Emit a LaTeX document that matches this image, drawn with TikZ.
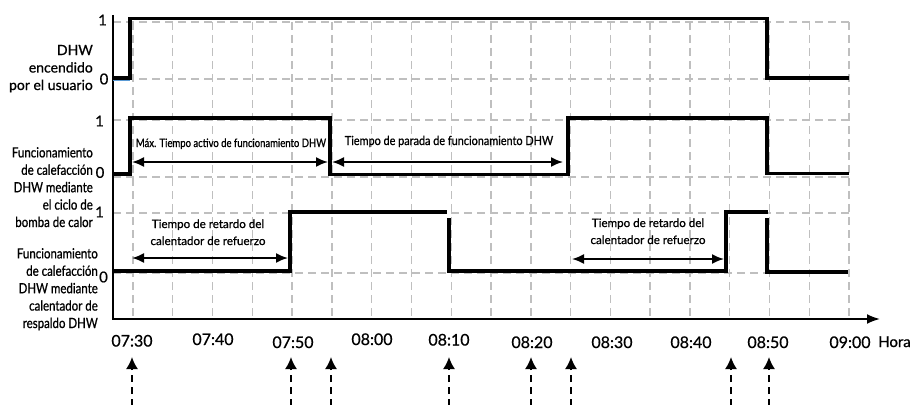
\documentclass[tikz,border=0pt]{standalone}
\usepackage{fontspec}
\setmainfont[FakeBold=0.8]{Lato}
\newfontfamily\condfont[FakeStretch=0.82,FakeBold=0.8]{Lato}
\newfontfamily\midfont[FakeStretch=0.87,FakeBold=0.8]{Lato}
\usetikzlibrary{arrows.meta}
\definecolor{gridgray}{HTML}{BFBFBF}
\definecolor{userblue}{HTML}{5B9BD5}
\begin{document}
\begin{tikzpicture}[x=1pt,y=-1pt,
  gridline/.style={gridgray,line width=1.4pt,dash pattern=on 8pt off 5pt},
  sig/.style={line width=3.6pt,line cap=butt,line join=miter},
  axisline/.style={line width=2pt,line join=miter},
  dimarrow/.style={line width=1.8pt,{Latex[length=12pt,width=10pt]}-{Latex[length=12pt,width=10pt]}},
  evarrow/.style={line width=1.8pt,dash pattern=on 7pt off 5pt,-{Latex[length=12pt,width=12pt]}},
  leftlbl/.style={font=\fontsize{14}{17.5}\selectfont,align=right,inner sep=0pt,anchor=base east},
  condlbl/.style={font=\condfont\fontsize{14}{17.4}\selectfont,align=right,inner sep=0pt,anchor=base east},
  lvl/.style={font=\fontsize{15}{18}\selectfont,inner sep=0pt},
  timelbl/.style={font=\fontsize{16}{19}\selectfont,inner sep=0pt,anchor=base},
  smalltxt/.style={font=\fontsize{11.6}{17}\selectfont,align=center,inner sep=0pt,anchor=base},
]
\useasboundingbox (0,0) rectangle (915,404);

% grid
\foreach \i in {0,...,18} \draw[gridline] ({133+\i*39.78},22) -- ({133+\i*39.78},319);
\foreach \yy in {22,79,120,177,213,273} \draw[gridline] (113,\yy) -- (849,\yy);

% axes
\coordinate (ytop) at (113,15);
\coordinate (origin) at (113,319);
\coordinate (xend) at (880,319);
\draw[axisline,-{Latex[length=13pt,width=10pt]}] (ytop) -- (origin) -- (xend);

% signal 1
\draw[userblue,line width=1pt] (113,80.5) -- (130,80.5);
\draw[sig] (113,78) -- (130,78) -- (130,18.5) -- (767,18.5) -- (767,78) -- (849,78);
% signal 2
\draw[sig] (113,174) -- (130,174) -- (130,118) -- (330,118) -- (330,174.5) -- (568,174.5) -- (568,118) -- (767,118) -- (767,173.5) -- (849,173.5);
% signal 3
\draw[sig] (113,271) -- (290,271) -- (290,212) -- (447,212);
\draw[sig] (449,218) -- (449,271) -- (726,271) -- (726,212) -- (768,212);
\draw[sig] (767,218) -- (767,272) -- (848,272);

% level labels
\node[lvl] (s1one) at (102.5,20) {1};
\node[lvl] (s1zero) at (104,79) {0};
\node[lvl] (s2one) at (99.5,121) {1};
\node[lvl] (s2zero) at (100,172.5) {0};
\node[lvl] (s3one) at (99.5,212) {1};
\node[lvl] (s3zero) at (103.5,277) {0};

% row labels (base = last line)
\node[leftlbl] (row1) at (93,90) {DHW\\encendido\\por el usuario};
\node[condlbl] (row2) at (93,227) {Funcionamiento\\de calefacción\\DHW mediante\\el ciclo de\\bomba de calor};
\node[condlbl] (row3) at (98,328) {Funcionamiento\\de calefacción\\DHW mediante\\calentador de\\respaldo DHW};

% dimension arrows
\coordinate (d1a) at (132,162); \coordinate (d1b) at (328,162);
\draw[dimarrow] (d1a) -- (d1b);
\node[font=\condfont\fontsize{11.6}{14}\selectfont,inner sep=0pt,anchor=base] (t1) at (231,147) {Máx. Tiempo activo de funcionamiento DHW};
\coordinate (d2a) at (332,162); \coordinate (d2b) at (563,162);
\draw[dimarrow] (d2a) -- (d2b);
\node[font=\midfont\fontsize{12.5}{14}\selectfont,inner sep=0pt,anchor=base] (t2) at (449,145) {Tiempo de parada de funcionamiento DHW};
\coordinate (d3a) at (132,258); \coordinate (d3b) at (288,258);
\draw[dimarrow] (d3a) -- (d3b);
\node[smalltxt] (t3) at (208,245) {Tiempo de retardo del\\calentador de refuerzo};
\coordinate (d4a) at (572,259); \coordinate (d4b) at (724,259);
\draw[dimarrow] (d4a) -- (d4b);
\node[smalltxt] (t4) at (648,244) {Tiempo de retardo del\\calentador de refuerzo};

% time labels
\node[timelbl] (h0730) at (132,346.5) {07:30};
\node[timelbl] (h0740) at (213,345) {07:40};
\node[timelbl] (h0750) at (293,348) {07:50};
\node[timelbl] (h0800) at (372,345) {08:00};
\node[timelbl] (h0810) at (449,345.5) {08:10};
\node[timelbl] (h0820) at (532,348) {08:20};
\node[timelbl] (h0830) at (612,348) {08:30};
\node[timelbl] (h0840) at (691,348) {08:40};
\node[timelbl] (h0850) at (768,348) {08:50};
\node[timelbl] (h0900) at (850,348) {09:00};
\node[font=\fontsize{15}{18}\selectfont,inner sep=0pt,anchor=base west] (hora) at (878,347) {Hora};

% event arrows
\foreach \xx/\nm in {132/a,291/b,331/c,449/d,531/e,571/f,731/g,769/h} {
  \coordinate (ev\nm s) at (\xx,406);
  \coordinate (ev\nm e) at (\xx,357);
  \draw[evarrow] (ev\nm s) -- (ev\nm e);
}
\end{tikzpicture}
\end{document}
